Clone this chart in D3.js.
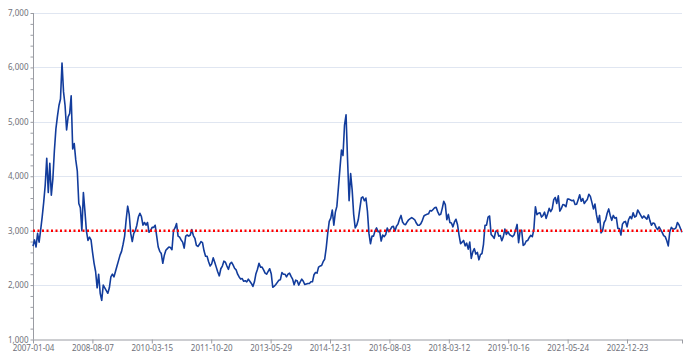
<!DOCTYPE html>
<html><head><meta charset="utf-8">
<script src="https://cdn.jsdelivr.net/npm/d3@7/dist/d3.min.js"></script>
<style>body{margin:0;background:#fff}svg{display:block}</style>
</head><body>
<svg id="c" width="693" height="359"></svg>
<script>
// Closing values sampled every 10 trading days, grouped by year
const y2007 = [2715, 2830, 2700, 2950, 2790, 3010, 3250, 3520, 3840, 4330, 3700, 4240, 3650, 3950, 4470, 4870, 5100, 5300, 5420, 6080, 5550, 5300, 4850, 5090, 5150];
const y2008 = [5480, 4500, 4600, 4300, 4100, 3500, 3420, 3000, 3700, 3360, 2990, 2820, 2880, 2830, 2600, 2400, 2250, 1950, 2200, 1850, 1720, 2000, 1950, 1900];
const y2009 = [1850, 1950, 2150, 2200, 2150, 2250, 2350, 2450, 2550, 2620, 2750, 2900, 3200, 3450, 3300, 2950, 2800, 2950, 3000, 3100, 3250, 3320, 3260, 3100, 3150];
const y2010 = [3100, 3150, 2970, 3000, 3060, 3060, 3100, 2900, 2700, 2620, 2580, 2400, 2550, 2640, 2670, 2700, 2690, 2650, 3000, 3050, 3130, 2900, 2880, 2830];
const y2011 = [2790, 2680, 2900, 2920, 2900, 2920, 3020, 2910, 2860, 2730, 2710, 2750, 2800, 2780, 2630, 2530, 2530, 2430, 2350, 2390, 2500, 2420, 2330, 2240];
const y2012 = [2170, 2300, 2350, 2440, 2420, 2350, 2290, 2390, 2420, 2370, 2310, 2280, 2200, 2150, 2110, 2120, 2070, 2080, 2060, 2110, 2070, 2030, 1975, 2060, 2210];
const y2013 = [2290, 2400, 2330, 2330, 2280, 2220, 2200, 2250, 2300, 2210, 1960, 1980, 2010, 2050, 2090, 2100, 2230, 2200, 2200, 2150, 2200, 2220, 2160];
const y2014 = [2110, 2005, 2090, 2080, 2000, 2060, 2110, 2070, 2010, 2020, 2030, 2030, 2060, 2060, 2190, 2230, 2220, 2330, 2350, 2360, 2430, 2475, 2680, 2950, 3170];
const y2015 = [3230, 3380, 3100, 3340, 3450, 3790, 4140, 4480, 4380, 4940, 5130, 4300, 3550, 4050, 3750, 3300, 3050, 3100, 3200, 3400, 3600, 3620, 3550, 3600];
const y2016 = [3360, 2950, 2760, 2900, 2900, 3000, 3050, 2980, 2990, 2810, 2920, 2890, 2930, 3050, 2980, 3020, 3070, 3080, 2990, 3080, 3120, 3210, 3280, 3160, 3120];
const y2017 = [3110, 3160, 3200, 3220, 3240, 3220, 3200, 3140, 3100, 3100, 3130, 3190, 3270, 3290, 3300, 3310, 3370, 3360, 3390, 3420, 3430, 3350, 3290, 3300];
const y2018 = [3410, 3540, 3480, 3200, 3300, 3150, 3140, 3070, 3160, 3210, 3110, 2920, 2760, 2790, 2820, 2720, 2770, 2660, 2790, 2490, 2610, 2670, 2570, 2600];
const y2019 = [2464, 2560, 2580, 2750, 3100, 3100, 3250, 3270, 2930, 2900, 2860, 2990, 3000, 2900, 2910, 2815, 2890, 3030, 2930, 2980, 2930, 2910, 2890, 2920, 3010];
const y2020 = [3115, 2780, 2990, 3010, 2730, 2750, 2810, 2820, 2875, 2915, 2890, 3025, 3440, 3295, 3320, 3330, 3250, 3280, 3340, 3225, 3310, 3410, 3350, 3400];
const y2021 = [3570, 3610, 3500, 3640, 3360, 3410, 3480, 3470, 3440, 3580, 3580, 3565, 3550, 3560, 3480, 3485, 3570, 3660, 3540, 3590, 3500, 3540, 3575, 3670];
const y2022 = [3630, 3520, 3400, 3490, 3290, 3150, 3280, 2960, 3000, 3150, 3200, 3320, 3400, 3280, 3190, 3280, 3230, 3240, 3040, 3040, 2920, 3120, 3160, 3170, 3070];
const y2023 = [3200, 3260, 3220, 3330, 3250, 3270, 3380, 3330, 3280, 3230, 3270, 3240, 3210, 3290, 3180, 3100, 3140, 3130, 3060, 3020, 3070, 3020, 2970, 2910];
const y2024 = [2890, 2820, 2720, 2980, 3060, 3030, 3030, 3050, 3150, 3110, 3040, 2970];

const sampleStep = 10;      // trading days between samples
const tickLabels = ["2007-01-04","2008-08-07","2010-03-15","2011-10-20","2013-05-29","2014-12-31","2016-08-03","2018-03-12","2019-10-16","2021-05-24","2022-12-23"];
const tickEvery = 389;      // trading days between x labels
const yTicks = [1000, 2000, 3000, 4000, 5000, 6000, 7000];
const refValue = 3000;

const values = [].concat(y2007,y2008,y2009,y2010,y2011,y2012,y2013,y2014,y2015,y2016,y2017,y2018,y2019,y2020,y2021,y2022,y2023,y2024);
const data = values.map((v, i) => ({ t: i * sampleStep, v }));
const tMax = (values.length - 1) * sampleStep;

const svg = d3.select("#c");
const L = 33, R = 682, T = 13, B = 339.5;
const x = d3.scaleLinear().domain([0, tMax]).range([L, R]);
const y = d3.scaleLinear().domain([1000, 7000]).range([B, T]);
const font = "'Noto Sans', 'Open Sans', sans-serif";
const labelColor = "#6e7079";

// grid
svg.append("g").selectAll("line").data(yTicks.slice(1)).join("line")
  .attr("x1", L).attr("x2", R)
  .attr("y1", d => Math.round(y(d)) + 0.5).attr("y2", d => Math.round(y(d)) + 0.5)
  .attr("stroke", "#e0e6f1").attr("stroke-width", 1);

// y axis
const yAxis = d3.axisLeft(y).tickValues(d3.range(1000, 7001, 200)).tickSize(3)
  .tickFormat(d => (d % 1000 === 0 ? d3.format(",")(d) : ""));
const gy = svg.append("g").attr("transform", `translate(${L + 0.5},0)`).call(yAxis);
gy.select(".domain").attr("stroke", "#9a9ca3").attr("d", `M0,${T}V${B}`);
gy.selectAll(".tick line").attr("stroke", "#9a9ca3");
gy.selectAll(".tick text").attr("fill", labelColor).attr("font-family", font)
  .attr("font-size", 8).attr("x", -5);

// x axis
const tickPos = tickLabels.map((_, i) => i * tickEvery);
const xAxis = d3.axisBottom(x).tickValues(tickPos.concat([tMax])).tickSize(4)
  .tickFormat((d, i) => tickLabels[i] || "");
const gx = svg.append("g").attr("transform", `translate(0,${B})`).call(xAxis);
gx.select(".domain").attr("stroke", "#9a9ca3").attr("d", `M${L},0.5H${R}`);
gx.selectAll(".tick line").attr("stroke", "#9a9ca3");
gx.selectAll(".tick text").attr("fill", labelColor).attr("font-family", font)
  .attr("font-size", 8).attr("y", 6);

// series line
svg.append("path").datum(data)
  .attr("fill", "none").attr("stroke", "#123c9c").attr("stroke-width", 1.6)
  .attr("stroke-linejoin", "round")
  .attr("d", d3.line().x(d => x(d.t)).y(d => y(d.v)));

// reference line
svg.append("line")
  .attr("x1", L).attr("x2", R).attr("y1", y(refValue)).attr("y2", y(refValue))
  .attr("stroke", "#f00").attr("stroke-width", 2.5).attr("stroke-dasharray", "2,2.5");
</script>
</body></html>
